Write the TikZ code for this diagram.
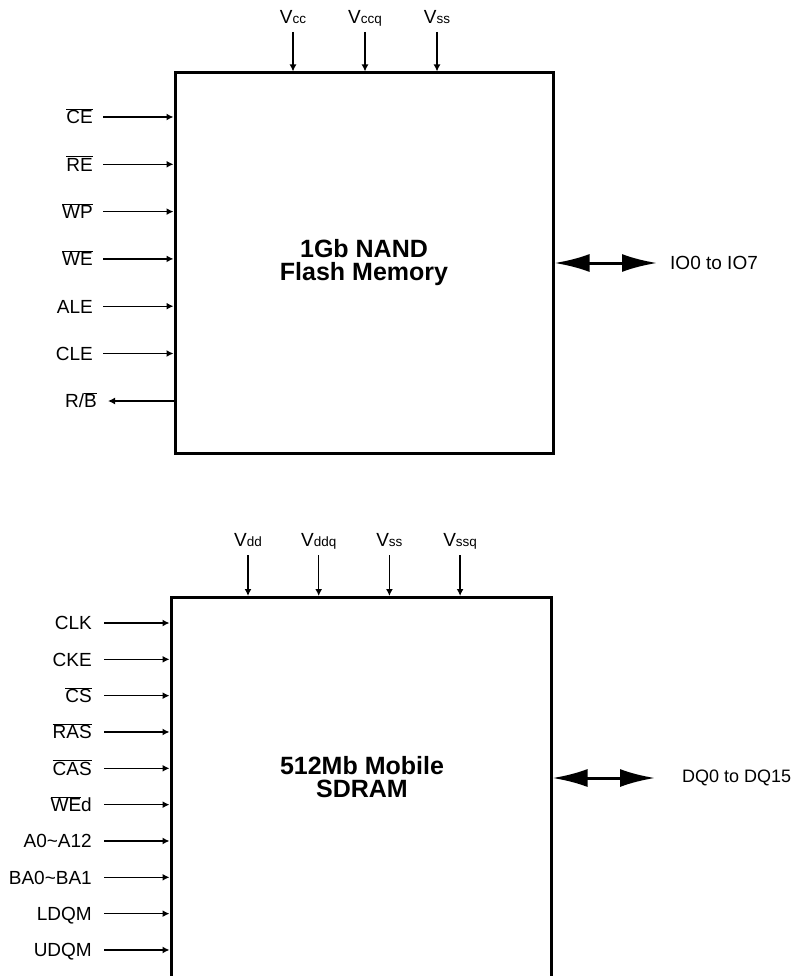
\documentclass[tikz,border=0pt]{standalone}
\usepackage{fontspec}
\setmainfont{Liberation Sans}
\usepackage{tikz}
\usetikzlibrary{positioning,arrows.meta}
\newcommand{\ovl}[1]{$\overline{\mbox{#1}}$}
\newcommand{\vsub}[1]{V{\fontsize{13.5}{14}\selectfont #1}}

\begin{document}
\begin{tikzpicture}[x=1pt, y=-1pt, every node/.style={font=\fontsize{19}{21}\selectfont},
  chip/.style={rectangle, draw, line width=3pt, inner sep=0pt},
  title/.style={font=\bfseries\fontsize{25}{23}\selectfont, align=center},
  lbl/.style={anchor=east, inner sep=0pt, text height=13.6pt, text depth=0pt},
  supply/.style={anchor=south, inner sep=0pt, text height=14pt, text depth=4pt},
  pin/.style={-{Latex[length=7pt,width=7pt]}, line width=1.4pt},
  bus/.style={{Latex[length=35pt,width=18pt]}-{Latex[length=35pt,width=18pt]}, line width=3pt}]
  \clip (0,0) rectangle (792,976);

  \node[chip, minimum width=378pt, minimum height=380pt, title] (nand) at (364,263) {1Gb NAND\\Flash Memory};

  \foreach \nm/\txt [count=\i] in {vcc/cc, vccq/ccq, vss/ss} {
    \node[supply] (\nm) at ({293+72*(\i-1)}, 28) {\vsub{\txt}};
    \draw[pin] (\nm.south) ++(0,4) -- (\nm.south |- nand.north);
  }

  \foreach \nm/\txt [count=\i] in {ce/\ovl{CE}, re/\ovl{RE}, wp/\ovl{WP}, we/\ovl{WE}, ale/ALE, cle/CLE} {
    \node[lbl] (\nm) at (93, {117+47.3*(\i-1)}) {\txt};
    \draw[pin] (\nm.east) ++(10,0) -- (\nm.east -| nand.west);
  }
  \node[lbl] (rb) at (97, 401) {R/\ovl{B}};
  \draw[pin] (rb.east -| nand.west) -- ([xshift=11pt]rb.east);

  \node[anchor=west, inner sep=0pt] (io) at (670, 263) {IO0 to IO7};
  \draw[bus] (nand.east) -- ([xshift=-13pt]io.west);

  \node[chip, minimum width=380pt, minimum height=500pt, anchor=north] (sdram) at (361,596) {};
  \node[title] (sdramtxt) at (362,777) {512Mb Mobile\\SDRAM};

  \foreach \nm/\txt [count=\i] in {vdd/dd, vddq/ddq, vssb/ss, vssq/ssq} {
    \node[supply] (\nm) at ({248+70.7*(\i-1)}, 551) {\vsub{\txt}};
    \draw[pin] (\nm.south) ++(0,4) -- (\nm.south |- sdram.north);
  }

  \foreach \nm/\txt [count=\i] in {clk/CLK, cke/CKE, cs/\ovl{CS}, ras/\ovl{RAS}, cas/\ovl{CAS}, wed/\ovl{WE}d, addr/A0\textasciitilde A12, ba/BA0\textasciitilde BA1, ldqm/LDQM, udqm/UDQM} {
    \node[lbl] (\nm) at (92, {623+36.33*(\i-1)}) {\txt};
    \draw[pin] (\nm.east) ++(12,0) -- (\nm.east -| sdram.west);
  }

  \node[anchor=west, inner sep=0pt, font=\fontsize{18}{20}\selectfont] (dq) at (682, 778) {DQ0 to DQ15};
  \draw[bus] (sdram.east |- dq.west) -- ([xshift=-27pt]dq.west);
\end{tikzpicture}
\end{document}
